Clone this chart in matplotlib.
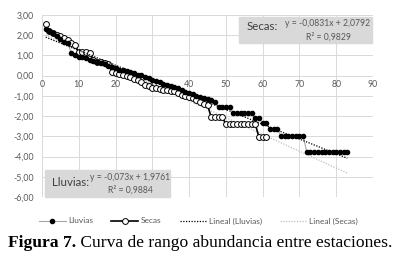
import numpy as np
import matplotlib as mpl
mpl.use("Agg")
import matplotlib.pyplot as plt
from matplotlib.patches import Rectangle
from matplotlib.ticker import FuncFormatter, MultipleLocator

# rank-abundance values (log abundance by rank)
lluvias = [2.32, 2.2, 2.1, 1.95, 1.8, 1.65, 1.6, 1.1, 1.0, 0.92,
           0.9, 0.85, 0.78, 0.72, 0.7, 0.65, 0.6, 0.5, 0.42, 0.38,
           0.3, 0.27, 0.22, 0.17, 0.12, 0.05, 0.02, -0.05, -0.1, -0.2,
           -0.25, -0.3, -0.4, -0.45, -0.5, -0.55, -0.6, -0.7, -0.8, -0.85,
           -0.9, -1.0, -1.05, -1.1, -1.15, -1.2, -1.3, -1.55, -1.55, -1.55,
           -1.55, -1.85, -1.85, -1.85, -1.85, -1.85, -1.85, -2.1, -2.1, -2.35,
           -2.35, -2.65, -2.65, -2.65, -3.0, -3.0, -3.0, -3.0, -3.0, -3.0,
           -3.0, -3.77, -3.77, -3.77, -3.77, -3.77, -3.77, -3.77, -3.77, -3.77,
           -3.77, -3.77, -3.77]
secas = [2.55, 2.2, 2.1, 2.0, 1.95, 1.85, 1.75, 1.6, 1.5, 1.15,
         1.15, 1.15, 1.1, 0.76, 0.7, 0.67, 0.62, 0.6, 0.17, 0.12,
         0.07, 0.05, 0.0, -0.05, -0.15, -0.22, -0.3, -0.45, -0.52, -0.6,
         -0.62, -0.65, -0.7, -0.72, -0.75, -0.78, -0.85, -0.95, -1.0, -1.05,
         -1.1, -1.2, -1.3, -1.4, -1.45, -2.05, -2.05, -2.05, -2.05, -2.4,
         -2.4, -2.4, -2.4, -2.4, -2.4, -2.4, -2.4, -2.4, -3.05, -3.05,
         -3.05]
rank_ll = np.arange(1, len(lluvias) + 1)
rank_se = np.arange(1, len(secas) + 1)

# trendline equations printed on the chart
ll_slope, ll_icpt = -0.073, 1.9761
se_slope, se_icpt = -0.0831, 2.0792
trend_x = np.array([1, len(lluvias)])

grey = "#595959"
plt.rcParams['font.family'] = ['Lato', 'DejaVu Sans']

fig = plt.figure(figsize=(3.97, 2.64), dpi=100)
ax = fig.add_axes([0.1058, 0.2538, 0.8338, 0.6894])

ax.plot(rank_ll, lluvias, color="#a6a6a6", lw=0.8, marker="o", ms=3.0,
        mfc="black", mec="black", label="Lluvias", zorder=3)
ax.plot(rank_se, secas, color="black", lw=1.2, marker="o", ms=4.2,
        mfc="white", mec="black", mew=0.7, label="Secas", zorder=2)
ax.plot(trend_x, ll_slope * trend_x + ll_icpt, color="black", lw=0.9,
        ls=(0, (1, 1.2)), label="Lineal (Lluvias)", zorder=4)
ax.plot(trend_x, se_slope * trend_x + se_icpt, color="#bfbfbf", lw=0.9,
        ls=(0, (1, 1.2)), label="Lineal (Secas)", zorder=1)

ax.set_xlim(0, 90)
ax.set_ylim(-6, 3)
ax.xaxis.set_major_locator(MultipleLocator(10))
ax.yaxis.set_major_locator(MultipleLocator(1))
ax.yaxis.set_major_formatter(FuncFormatter(lambda v, p: f"{v:.2f}".replace(".", ",")))
ax.grid(True, color="#d9d9d9", lw=0.7)
ax.set_axisbelow(True)
for s in ["top", "right", "left"]:
    ax.spines[s].set_visible(False)
ax.spines["bottom"].set_position(("data", 0))
ax.spines["bottom"].set_visible(False)
ax.tick_params(length=0, labelsize=6.3, colors=grey, pad=3)
ax.tick_params(axis="y", pad=6)

# equation boxes
fig.patches.append(Rectangle((239 / 397, 1 - 43 / 264), 133 / 397, 26 / 264,
                             transform=fig.transFigure, color="#d9d9d9", zorder=5))
fig.text(247 / 397, 1 - 27 / 264, "Secas:", fontsize=8.3, color="#404040", va="center", zorder=6)
fig.text(328 / 397, 1 - 24 / 264, "y = -0,0831x + 2,0792", fontsize=6.2, color=grey,
         ha="center", va="center", zorder=6)
fig.text(328 / 397, 1 - 37 / 264, "R² = 0,9829", fontsize=6.2, color=grey,
         ha="center", va="center", zorder=6)

fig.patches.append(Rectangle((45 / 397, 1 - 197 / 264), 125 / 397, 27 / 264,
                             transform=fig.transFigure, color="#d9d9d9", zorder=5))
fig.text(52 / 397, 1 - 183 / 264, "Lluvias:", fontsize=8.3, color="#404040", va="center", zorder=6)
fig.text(130 / 397, 1 - 178 / 264, "y = -0,073x + 1,9761", fontsize=6.2, color=grey,
         ha="center", va="center", zorder=6)
fig.text(130 / 397, 1 - 190 / 264, "R² = 0,9884", fontsize=6.2, color=grey,
         ha="center", va="center", zorder=6)

leg = fig.legend(loc="center", bbox_to_anchor=(0.5, 1 - 221 / 264), ncol=4, frameon=False,
                 fontsize=6, handlelength=3.2, columnspacing=2.2, handletextpad=0.3)
for t in leg.get_texts():
    t.set_color(grey)

# caption: bold label followed by regular text
cap1 = fig.text(8 / 397, 1 - 243 / 264, "Figura 7.", fontsize=12.6, weight="bold",
                va="center", family="Liberation Serif")
fig.canvas.draw()
bb = cap1.get_window_extent()
fig.text(bb.x1 / fig.bbox.width, 1 - 243 / 264, " Curva de rango abundancia entre estaciones.",
         fontsize=12.6, va="center", family="Liberation Serif")

fig.savefig("out.png", dpi=100)
